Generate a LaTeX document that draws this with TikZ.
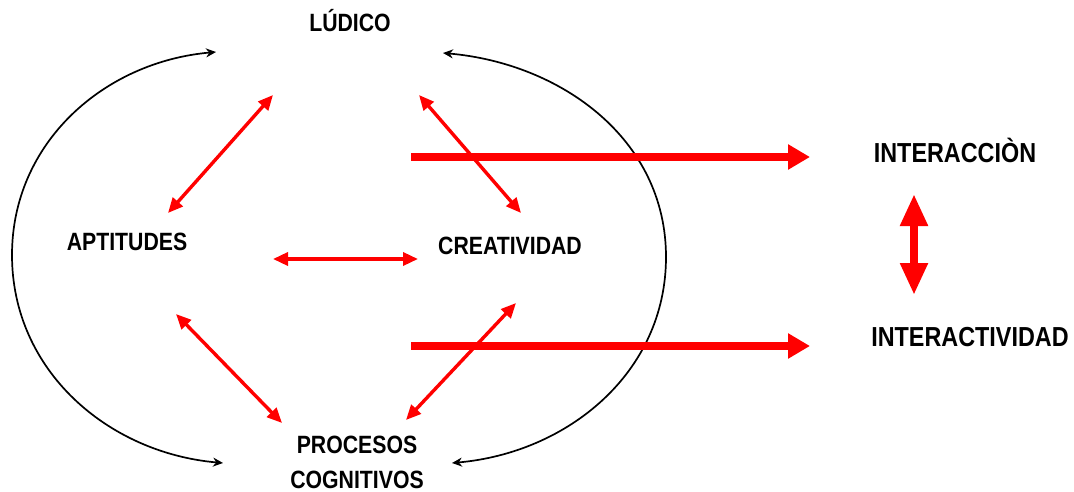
\documentclass[tikz,border=0pt]{standalone}
\usepackage{fontspec}
\setmainfont{Liberation Sans}[FakeStretch=0.85]
\usetikzlibrary{arrows.meta}

\begin{document}
\begin{tikzpicture}[x=1pt,y=-1pt,
    concept/.style={font=\bfseries\fontsize{25}{35}\selectfont,inner sep=0pt,align=center},
    result/.style={font=\bfseries\fontsize{27.5}{33}\selectfont,inner sep=0pt,anchor=base},
    link/.style={red,line width=3.4pt,{Triangle[length=15pt,width=13pt]}-{Triangle[length=15pt,width=13pt]}},
    flow/.style={red,line width=8pt,-{Triangle[length=22pt,width=24pt]}},
    swap/.style={red,line width=8pt,{Triangle[length=32pt,width=26pt]}-{Triangle[length=32pt,width=26pt]}},
    loopline/.style={black,line width=1.7pt,{Stealth[length=10pt,width=9pt]}-{Stealth[length=10pt,width=9pt]}}]
  \useasboundingbox (0,0) rectangle (1074,492);

% define the concepts
  \node[concept,anchor=base] (ludico)    at (350,31.5) {LÚDICO};
  \node[concept,anchor=base] (aptitudes) at (127,250)  {APTITUDES};
  \node[concept,anchor=base] (creativ)   at (510,254)  {CREATIVIDAD};
  \node[concept]             (procesos)  at (357,462.5)  {PROCESOS\\COGNITIVOS};
  \node[result] (interaccion)  at (955,163) {INTERACCIÒN};
  \node[result] (interactiv)   at (970,346) {INTERACTIVIDAD};

% define the arrow ends
  \coordinate (apt-up)  at (168,213);  \coordinate (lud-l) at (273,95);
  \coordinate (lud-r)   at (419,95);   \coordinate (cre-up) at (521,213);
  \coordinate (apt-r)   at (273,259);  \coordinate (cre-l) at (418,259);
  \coordinate (apt-dn)  at (176,314);  \coordinate (pro-l) at (282,423);
  \coordinate (cre-dn)  at (516,303);  \coordinate (pro-r) at (406,420);
  \coordinate (top-l)   at (216,52);   \coordinate (bot-l) at (223,463);
  \coordinate (far-l)   at (12,255);
  \coordinate (top-r)   at (443,53);   \coordinate (bot-r) at (452,463);
  \coordinate (far-r)   at (666,257);
  \coordinate (out-a)   at (411,157);  \coordinate (in-a)  at (810,157);
  \coordinate (out-b)   at (411,346);  \coordinate (in-b)  at (810,346);
  \coordinate (sw-top)  at (914,194);  \coordinate (sw-bot) at (914,295);

% define the links
  \draw[loopline] (top-l) to[out=185,in=90] (far-l) to[out=-90,in=175] (bot-l);
  \draw[loopline] (top-r) to[out=-5,in=90] (far-r) to[out=-90,in=5] (bot-r);
  \draw[flow] (out-a) -- (in-a);
  \draw[flow] (out-b) -- (in-b);
  \path[link] (apt-up) edge (lud-l)
        (lud-r)  edge (cre-up)
        (apt-r)  edge (cre-l)
        (apt-dn) edge (pro-l)
        (cre-dn) edge (pro-r);
  \draw[swap] (sw-top) -- (sw-bot);
\end{tikzpicture}
\end{document}
